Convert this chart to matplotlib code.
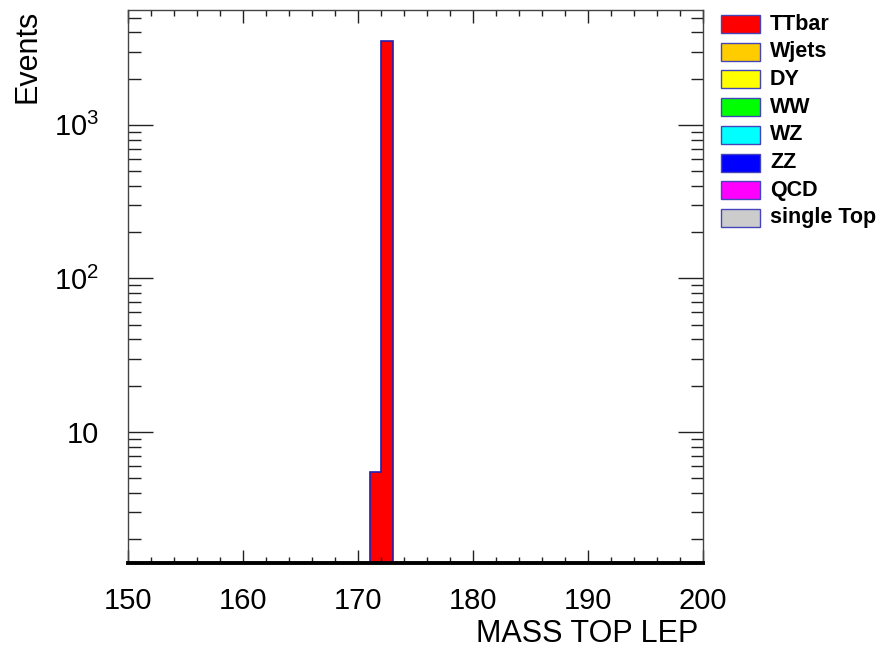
import numpy as np
import matplotlib
matplotlib.use('Agg')
import matplotlib.pyplot as plt
from matplotlib.patches import Rectangle
from matplotlib.ticker import FixedLocator, FixedFormatter, MultipleLocator

plt.rcParams['font.family'] = ['Liberation Sans', 'DejaVu Sans']
plt.rcParams['mathtext.fontset'] = 'custom'
plt.rcParams['mathtext.rm'] = 'Liberation Sans'

# histogram binning (GeV)
x_lo, x_hi, bin_width = 150, 200, 1

# stacked samples, bottom to top of the legend
samples = ['TTbar', 'Wjets', 'DY', 'WW', 'WZ', 'ZZ', 'QCD', 'single Top']
colors = ['#ff0000', '#ffcc00', '#ffff00', '#00ff00', '#00ffff', '#0000ff', '#ff00ff', '#cccccc']

# only ttbar has entries in this window
ttbar_bins = [171, 172]
ttbar_counts = [5.45, 3540]

y_ticks = [10, 100, 1000]
y_ticklabels = ['10', r'$\mathregular{10^{2}}$', r'$\mathregular{10^{3}}$']

edges = np.arange(x_lo, x_hi + bin_width, bin_width)
nbins = len(edges) - 1
contents = {s: np.zeros(nbins) for s in samples}
for b, c in zip(ttbar_bins, ttbar_counts):
    contents['TTbar'][int((b - x_lo) / bin_width)] = c

fig = plt.figure(figsize=(8.81, 6.5), dpi=100)
ax = fig.add_axes([128 / 881, 1 - 563 / 650, 575 / 881, 553 / 650])

floor = 1e-3  # stand-in for zero on the log axis
stack = np.zeros(nbins)
for s, col in zip(samples, colors):
    h = contents[s]
    if h.sum() > 0:
        top = stack + h
        ax.stairs(np.where(top > 0, top, floor), edges,
                  baseline=np.where(stack > 0, stack, floor),
                  fill=True, facecolor=col, edgecolor='#2020b0', linewidth=1.2)
    stack = stack + h

ax.set_yscale('log')
ax.set_xlim(x_lo, x_hi)
ax.set_ylim(1.40, 5600)

ax.xaxis.set_major_locator(MultipleLocator(10))
ax.xaxis.set_minor_locator(MultipleLocator(2))
ax.yaxis.set_major_locator(FixedLocator(y_ticks))
ax.yaxis.set_major_formatter(FixedFormatter(y_ticklabels))
minors = [m * 10.0 ** e for e in range(0, 4) for m in range(2, 10)]
ax.yaxis.set_minor_locator(FixedLocator(minors))
ax.yaxis.set_minor_formatter(FixedFormatter([''] * len(minors)))

ax.tick_params(axis='x', which='both', direction='in', top=True, bottom=True,
               labelsize=21, pad=17, width=1.0, color='#222222')
ax.tick_params(axis='x', which='major', length=9.5)
ax.tick_params(axis='x', which='minor', length=4.5)
ax.tick_params(axis='y', which='both', direction='in', left=True, right=True,
               labelsize=21, pad=21, width=1.0, color='#222222')
ax.tick_params(axis='y', which='major', length=18)
ax.tick_params(axis='y', which='minor', length=9)

for sp in ax.spines.values():
    sp.set_linewidth(1.0)
    sp.set_color('#444444')
ax.spines['bottom'].set_linewidth(2.8)
ax.spines['bottom'].set_color('black')

fig.text(698 / 881, 1 - 634 / 650, 'MASS TOP LEP', fontsize=22,
         ha='right', va='center')
fig.text(28 / 881, 1 - 10 / 650, 'Events', fontsize=22, rotation=90,
         ha='center', va='top')

# legend on the right side
for i, (s, col) in enumerate(zip(samples, colors)):
    yc = 1 - (24 + i * 27.7) / 650
    fig.patches.append(Rectangle((721 / 881, yc - 9 / 650), 39 / 881, 18 / 650,
                                 transform=fig.transFigure, facecolor=col,
                                 edgecolor='#4444bb', linewidth=1.0))
    fig.text(770 / 881, yc, s, fontsize=15.5, fontweight='bold', ha='left', va='center')

fig.savefig('out.png', dpi=100)
